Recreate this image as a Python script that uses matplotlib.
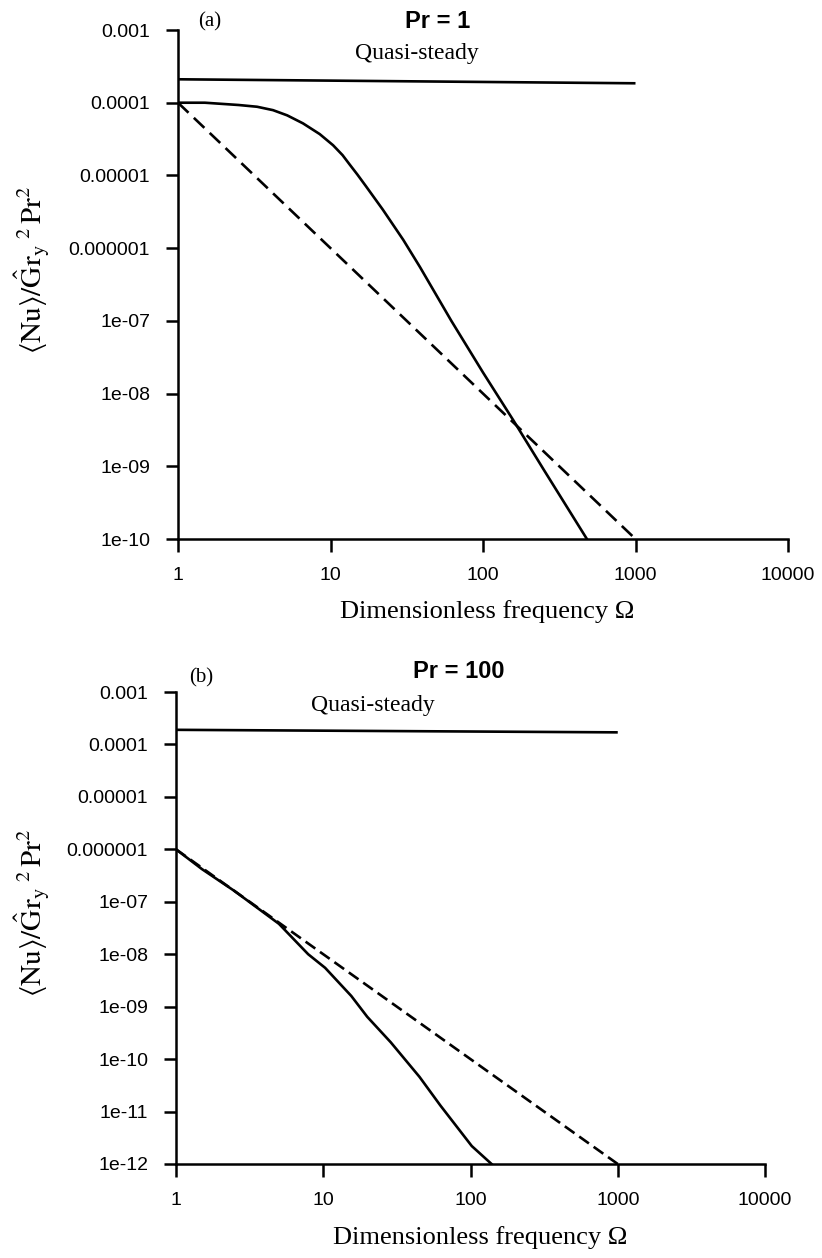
import matplotlib
matplotlib.use("Agg")
import matplotlib.pyplot as plt

# ---------------- data ----------------
# Panel (a): Pr = 1
a_quasi_x = [1, 1000]
a_quasi_y = [2.1e-4, 1.85e-4]
a_solid_x = [1, 1.5, 2.0, 2.5, 3.3, 4.2, 5.2, 6.6, 8.5, 10.4, 12, 13.4, 15, 17, 22, 30, 38.6,
             62, 100, 158, 250, 480]
a_solid_y = [1e-4, 1e-4, 9.6e-5, 9.3e-5, 8.8e-5, 7.9e-5, 6.7e-5, 5.2e-5, 3.7e-5, 2.6e-5,
             1.9e-5, 1.4e-5, 1.03e-5, 7.2e-6, 3.4e-6, 1.3e-6, 5.5e-7, 1.0e-7, 1.95e-8,
             4.3e-9, 9.0e-10, 1e-10]
a_dash_x = [1, 1000]
a_dash_y = [1e-4, 1e-10]

# Panel (b): Pr = 100
b_quasi_x = [1, 1000]
b_quasi_y = [1.9e-4, 1.7e-4]
b_solid_x = [1, 1.5, 2.5, 5, 7.9, 10.3, 15.5, 19.9, 28.7, 45, 62.5, 102, 139]
b_solid_y = [1e-6, 4.2e-7, 1.6e-7, 3.8e-8, 1.0e-8, 5.5e-9, 1.6e-9, 6.4e-10, 2.1e-10,
             4.6e-11, 1.3e-11, 2.2e-12, 1e-12]
b_dash_x = [1, 1000]
b_dash_y = [1e-6, 1e-12]

x_ticks = [1, 10, 100, 1000, 10000]
x_ticklabels = ["1", "10", "100", "1000", "10000"]
a_yticks = [1e-3, 1e-4, 1e-5, 1e-6, 1e-7, 1e-8, 1e-9, 1e-10]
a_yticklabels = ["0.001", "0.0001", "0.00001", "0.000001", "1e-07", "1e-08", "1e-09", "1e-10"]
b_yticks = [1e-3, 1e-4, 1e-5, 1e-6, 1e-7, 1e-8, 1e-9, 1e-10, 1e-11, 1e-12]
b_yticklabels = ["0.001", "0.0001", "0.00001", "0.000001", "1e-07", "1e-08", "1e-09",
                 "1e-10", "1e-11", "1e-12"]

# ---------------- style ----------------
plt.rcParams['mathtext.fontset'] = 'stix'
SANS = "Liberation Sans"
SERIF = "Liberation Serif"
W, H = 822, 1258
fig = plt.figure(figsize=(W / 100, H / 100), dpi=100)


def fx(px):
    return px / W


def fy(py):
    return 1 - py / H


def make_axes(left, right, top, bottom):
    return fig.add_axes([fx(left), fy(bottom), fx(right) - fx(left), fy(top) - fy(bottom)])


def style(ax, yticks, yticklabels, ylim):
    ax.set_xscale('log')
    ax.set_yscale('log')
    ax.set_xlim(1, 10000)
    ax.set_ylim(*ylim)
    for s in ['top', 'right']:
        ax.spines[s].set_visible(False)
    for s in ['left', 'bottom']:
        ax.spines[s].set_linewidth(1.8)
    ax.set_xticks(x_ticks)
    ax.set_xticklabels(x_ticklabels, fontfamily=SANS, fontsize=14)
    ax.set_yticks(yticks)
    ax.set_yticklabels(yticklabels, fontfamily=SANS, fontsize=14)
    ax.minorticks_off()
    ax.tick_params(axis='both', which='major', direction='out', length=9, width=1.8)
    ax.tick_params(axis='y', pad=11)
    ax.tick_params(axis='x', pad=11)


ylabel = r'$\langle\mathrm{Nu}\rangle/\hat{\mathrm{G}}\mathrm{r}_{\mathrm{y}}{}^{\ 2}\,\mathrm{Pr}^{2}$'
LW = 1.9

# ---------------- panel (a) ----------------
ax1 = make_axes(178, 788, 30, 539)
style(ax1, a_yticks, a_yticklabels, (1e-10, 1e-3))
ax1.plot(a_quasi_x, a_quasi_y, color='black', lw=LW, solid_capstyle='butt')
ax1.plot(a_solid_x, a_solid_y, color='black', lw=LW, solid_joinstyle='round')
ax1.plot(a_dash_x, a_dash_y, color='black', lw=LW, linestyle=(0, (5.5, 2.8)))

fig.text(fx(210), fy(22), "(a)", family=SERIF, fontsize=15, ha='center', va='center')
fig.text(fx(438), fy(21), "Pr = 1", family=SANS, fontsize=17, fontweight='bold',
         ha='center', va='center')
fig.text(fx(417), fy(54), "Quasi-steady", family=SERIF, fontsize=17, ha='center', va='center')
fig.text(fx(487), fy(612), "Dimensionless frequency Ω", family=SERIF, fontsize=19,
         ha='center', va='center')
fig.text(fx(32), fy(270), ylabel, fontsize=21, rotation=90, ha='center', va='center')

# ---------------- panel (b) ----------------
ax2 = make_axes(176, 765, 692, 1164)
style(ax2, b_yticks, b_yticklabels, (1e-12, 1e-3))
ax2.plot(b_quasi_x, b_quasi_y, color='black', lw=LW, solid_capstyle='butt')
ax2.plot(b_solid_x, b_solid_y, color='black', lw=LW, solid_joinstyle='round')
ax2.plot(b_dash_x, b_dash_y, color='black', lw=LW, linestyle=(0, (4.5, 2.2)))

fig.text(fx(201), fy(678), "(b)", family=SERIF, fontsize=15, ha='center', va='center')
fig.text(fx(459), fy(672), "Pr = 100", family=SANS, fontsize=17, fontweight='bold',
         ha='center', va='center')
fig.text(fx(373), fy(706), "Quasi-steady", family=SERIF, fontsize=17, ha='center', va='center')
fig.text(fx(480), fy(1238), "Dimensionless frequency Ω", family=SERIF, fontsize=19,
         ha='center', va='center')
fig.text(fx(32), fy(913), ylabel, fontsize=21, rotation=90, ha='center', va='center')

fig.savefig("out.png", dpi=100)
